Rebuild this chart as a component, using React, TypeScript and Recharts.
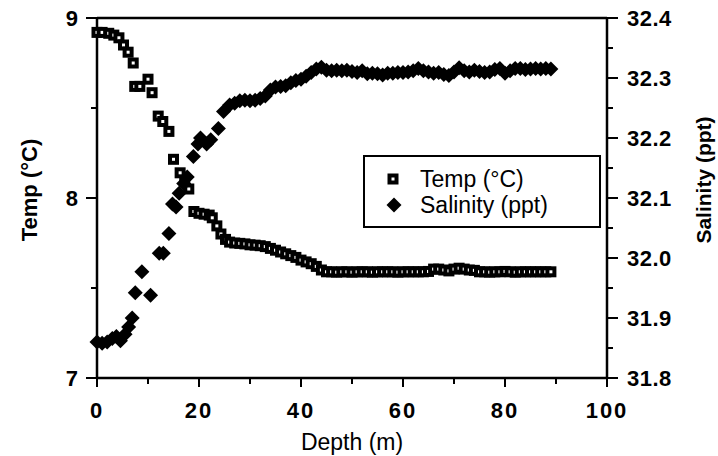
import { ScatterChart, Scatter, XAxis, YAxis, ReferenceLine, Legend } from "recharts";

// depth (m) / temperature (°C) pairs
const tempDepth = [
  0, 1, 2.3, 3.3, 4.3, 5.2, 6.1, 7.1, 7.4, 8.4, 10, 10.8, 12, 12.9, 14.1, 15, 16.3, 17.2, 18, 19,
  20, 21, 22, 22.6, 23.5, 24.3, 25.2, 26, 27, 28, 29, 30, 31, 32, 33, 34, 35, 36, 37, 38, 39,
  40, 41, 42, 43, 44, 45, 46, 47, 48, 49, 50, 51, 52, 53, 54, 55, 56, 57, 58, 59, 60, 61, 62,
  63, 64, 65, 66, 67, 68, 69, 70, 71, 72, 73, 74, 75, 76, 77, 78, 79, 80, 81, 82, 83, 84, 85,
  86, 87, 88, 89,
];
const tempValue = [
  8.92, 8.92, 8.915, 8.905, 8.89, 8.85, 8.81, 8.75, 8.62, 8.62, 8.66, 8.585, 8.455, 8.425, 8.37,
  8.215, 8.14, 8.09, 8.05, 7.925, 7.915, 7.91, 7.905, 7.89, 7.845, 7.8, 7.77, 7.755, 7.75, 7.748,
  7.745, 7.74, 7.738, 7.735, 7.73, 7.72, 7.71, 7.7, 7.69, 7.68, 7.67, 7.655, 7.645, 7.635, 7.62,
  7.6, 7.59, 7.59, 7.588, 7.59, 7.59, 7.588, 7.59, 7.59, 7.59, 7.588, 7.59, 7.59, 7.59, 7.59,
  7.588, 7.59, 7.59, 7.59, 7.59, 7.59, 7.592, 7.605, 7.605, 7.6, 7.595, 7.605, 7.61, 7.605, 7.6,
  7.598, 7.59, 7.59, 7.588, 7.59, 7.59, 7.592, 7.59, 7.588, 7.59, 7.59, 7.59, 7.59, 7.59, 7.59,
  7.59,
];

// depth (m) / salinity (ppt) pairs
const salDepth = [
  0, 1, 2, 3, 3.8, 4.6, 5.5, 6.2, 6.9, 7.5, 8.8, 10.5, 12.2, 13, 14.1, 14.8, 15.5, 16.1, 17, 17.7,
  18.9, 19.8, 20.3, 21.5, 22.3, 23.8, 24.8, 26, 27, 28, 29, 30, 31, 32, 33, 34, 35, 36, 37, 38,
  39, 40, 41, 42, 43, 44, 45, 46, 47, 48, 49, 50, 51, 52, 53, 54, 55, 56, 57, 58, 59, 60, 61, 62,
  63, 64, 65, 66, 67, 68, 69, 70, 71, 72, 73, 74, 75, 76, 77, 78, 79, 80, 81, 82, 83, 84, 85,
  86, 87, 88, 89,
];
const salValue = [
  31.86, 31.858, 31.86, 31.866, 31.869, 31.862, 31.873, 31.885, 31.9, 31.942, 31.977, 31.938,
  32.008, 32.008, 32.041, 32.09, 32.085, 32.108, 32.124, 32.135, 32.169, 32.19, 32.2, 32.19,
  32.197, 32.216, 32.244, 32.255, 32.258, 32.262, 32.263, 32.262, 32.263, 32.266, 32.27, 32.28,
  32.285, 32.286, 32.287, 32.292, 32.296, 32.298, 32.303, 32.309, 32.315, 32.318, 32.313, 32.312,
  32.313, 32.312, 32.313, 32.311, 32.309, 32.312, 32.307, 32.308, 32.307, 32.305, 32.308, 32.308,
  32.309, 32.309, 32.31, 32.312, 32.316, 32.312, 32.31, 32.308, 32.309, 32.306, 32.304, 32.31,
  32.317, 32.312, 32.31, 32.313, 32.311, 32.309, 32.31, 32.314, 32.316, 32.308, 32.312, 32.316,
  32.316, 32.314, 32.315, 32.316, 32.315, 32.316, 32.315,
];

const depthTicks = [0, 10, 20, 30, 40, 50, 60, 70, 80, 90, 100];
const tempTicks = [7, 7.5, 8, 8.5, 9];
const salTicks = [31.8, 31.85, 31.9, 31.95, 32.0, 32.05, 32.1, 32.15, 32.2, 32.25, 32.3, 32.35, 32.4];

const FONT = '"Liberation Sans", Arial, Helvetica, sans-serif';
const BOLD = { fontFamily: FONT, fontWeight: 700 };

const tempData = tempDepth.map((d, i) => ({ depth: d, value: tempValue[i] }));
const salData = salDepth.map((d, i) => ({ depth: d, value: salValue[i] }));

function SquareMark(props: any) {
  const { cx, cy } = props;
  if (cx == null || cy == null) return null;
  return (
    <g>
      <rect x={cx - 5.5} y={cy - 5.5} width={11} height={11} fill="#000" />
      <rect x={cx - 1.5} y={cy - 1.5} width={3} height={3} fill="#fff" />
    </g>
  );
}

function DiamondMark(props: any) {
  const { cx, cy } = props;
  if (cx == null || cy == null) return null;
  const r = 7.5;
  return <polygon points={`${cx},${cy - r} ${cx + r},${cy} ${cx},${cy + r} ${cx - r},${cy}`} fill="#000" />;
}

function DepthTick({ x, y, payload }: any) {
  const major = payload.value % 20 === 0;
  return (
    <g>
      <line x1={x} x2={x} y1={y} y2={y + (major ? 9 : 6)} stroke="#000" strokeWidth={2} />
      {major && (
        <text x={x} y={y + 40} textAnchor="middle" style={BOLD} fontSize={22} letterSpacing={2} fill="#000">
          {payload.value}
        </text>
      )}
    </g>
  );
}

function TempTick({ x, y, payload }: any) {
  const major = Number.isInteger(payload.value);
  return (
    <g>
      <line x1={x - (major ? 11 : 6)} x2={x} y1={y} y2={y} stroke="#000" strokeWidth={2} />
      {major && (
        <text x={x - 19} y={y + 8} textAnchor="end" style={BOLD} fontSize={22} fill="#000">
          {payload.value}
        </text>
      )}
    </g>
  );
}

function SalTick({ x, y, payload }: any) {
  const major = Math.round(payload.value * 100) % 10 === 0;
  return (
    <g>
      <line x1={x} x2={x + (major ? 11 : 6)} y1={y} y2={y} stroke="#000" strokeWidth={2} />
      {major && (
        <text x={x + 20} y={y + 8} textAnchor="start" style={BOLD} fontSize={22} letterSpacing={0.5} fill="#000">
          {payload.value.toFixed(1)}
        </text>
      )}
    </g>
  );
}

function LegendBox() {
  const row = { display: "flex", alignItems: "center", height: 26 } as const;
  return (
    <div
      style={{
        width: 238,
        height: 73,
        boxSizing: "border-box",
        border: "2.5px solid #000",
        background: "#fff",
        padding: "9px 0 0 21px",
        fontFamily: FONT,
        fontSize: 23,
        color: "#000",
      }}
    >
      <div style={row}>
        <svg width={14} height={14} style={{ marginRight: 20 }}>
          <SquareMark cx={7} cy={7} />
        </svg>
        <span>Temp (°C)</span>
      </div>
      <div style={row}>
        <svg width={16} height={16} style={{ marginRight: 18 }}>
          <DiamondMark cx={8} cy={8} />
        </svg>
        <span>Salinity (ppt)</span>
      </div>
    </div>
  );
}

export default function App() {
  return (
    <div style={{ position: "absolute", left: 0, top: 0, background: "#fff" }}>
      <ScatterChart width={718} height={456} margin={{ top: 18, right: 0, bottom: 0, left: 0 }}>
        <XAxis
          type="number"
          dataKey="depth"
          domain={[0, 100]}
          ticks={depthTicks}
          interval={0}
          height={78}
          tickSize={0}
          tickMargin={0}
          tickLine={false}
          axisLine={{ stroke: "#000", strokeWidth: 2.5 }}
          tick={<DepthTick />}
          label={{
            content: () => (
              <text x={352} y={450} textAnchor="middle" style={{ fontFamily: FONT }} fontSize={23} fill="#000">
                Depth (m)
              </text>
            ),
          }}
        />
        <YAxis
          yAxisId="temp"
          type="number"
          dataKey="value"
          domain={[7, 9]}
          ticks={tempTicks}
          interval={0}
          width={97}
          tickSize={0}
          tickMargin={0}
          tickLine={false}
          axisLine={{ stroke: "#000", strokeWidth: 2.5 }}
          tick={<TempTick />}
          label={{
            content: () => (
              <text
                x={37}
                y={190}
                transform="rotate(-90 37 190)"
                textAnchor="middle"
                style={BOLD}
                fontSize={22}
                fill="#000"
              >
                Temp (°C)
              </text>
            ),
          }}
        />
        <YAxis
          yAxisId="sal"
          orientation="right"
          type="number"
          dataKey="value"
          domain={[31.8, 32.4]}
          ticks={salTicks}
          interval={0}
          width={111}
          tickSize={0}
          tickMargin={0}
          tickLine={false}
          axisLine={{ stroke: "#000", strokeWidth: 2.5 }}
          tick={<SalTick />}
          label={{
            content: () => (
              <text
                x={711}
                y={180}
                transform="rotate(-90 711 180)"
                textAnchor="middle"
                style={BOLD}
                fontSize={21}
                fill="#000"
              >
                Salinity (ppt)
              </text>
            ),
          }}
        />
        <ReferenceLine yAxisId="temp" y={9} stroke="#000" strokeWidth={2.5} />
        <Scatter name="Temp (°C)" yAxisId="temp" data={tempData} shape={<SquareMark />} isAnimationActive={false} />
        <Scatter name="Salinity (ppt)" yAxisId="sal" data={salData} shape={<DiamondMark />} isAnimationActive={false} />
        <Legend
          layout="vertical"
          align="center"
          verticalAlign="middle"
          wrapperStyle={{ position: "absolute", left: 363, top: 155, width: 238, height: 73 }}
          content={() => <LegendBox />}
        />
      </ScatterChart>
    </div>
  );
}
